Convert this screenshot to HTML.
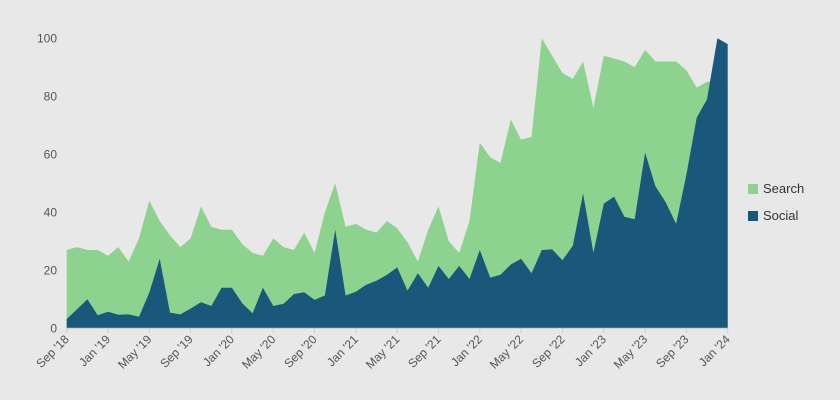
<!DOCTYPE html>
<html><head><meta charset="utf-8"><style>
body{margin:0;background:#e7e8e7;}
svg{display:block;font-family:"Liberation Sans",sans-serif;}
</style></head><body>
<svg id="c" width="840" height="400" xmlns="http://www.w3.org/2000/svg">
<rect width="840" height="400" fill="#e7e8e7"/>
<g id="areas"></g>
<line x1="66.7" y1="328.3" x2="727.7" y2="328.3" stroke="#c8cccc" stroke-width="1"/>
<g id="labels" font-size="12" fill="#555"></g>
<rect x="748" y="184" width="10" height="10" fill="#8dd28e"/>
<text x="763" y="193" font-size="13" fill="#333">Search</text>
<rect x="748" y="211" width="10" height="10" fill="#19587a"/>
<text x="763" y="220" font-size="13" fill="#333">Social</text>
</svg>
<script>
var S=[27,28,27,27,25,28,23,31,44,37,32,28,31,42,35,34,34,29,26,25,31,28,27,33,26,40,50,35,36,34,33,37,34.5,29.7,23,34,42,30,26,37,64,59,57,72,65,66,100,94,88,86,92,76,94,93,92,90,96,92,92,92,89,83,85,85,85];
var O=[3.2,6.5,10,4.5,5.7,4.7,4.8,4,12.3,24,5.4,4.8,6.8,9,7.7,14,14,8.6,5.2,14,7.7,8.5,11.8,12.4,9.8,11.3,34,11.3,12.6,15,16.4,18.4,21,13,19,14,21.5,17,21.5,17,27,17.5,18.5,22,24,19,27,27.2,23.5,28.5,46.5,26,43,45.4,38.5,37.6,60.6,49,43.5,36,53,72.6,79,100,98];
var x0=66.7,dx=(727.7-66.7)/64,y0=328.3,k=2.9;
function poly(d,c){var p=x0+","+y0;for(var i=0;i<d.length;i++)p+=" "+(x0+i*dx).toFixed(1)+","+(y0-d[i]*k).toFixed(1);p+=" "+(x0+(d.length-1)*dx).toFixed(1)+","+y0;return '<polygon points="'+p+'" fill="'+c+'"/>';}
document.getElementById("areas").innerHTML=poly(S,"#8dd28e")+poly(O,"#19587a");
var L="";
for(var v=0;v<=100;v+=20){L+='<text x="57" y="'+(y0-v*k+4).toFixed(1)+'" text-anchor="end">'+v+'</text>';}
var names=["Sep '18","Jan '19","May '19","Sep '19","Jan '20","May '20","Sep '20","Jan '21","May '21","Sep '21","Jan '22","May '22","Sep '22","Jan '23","May '23","Sep '23","Jan '24"];
for(var i=0;i<names.length;i++){var x=x0+i*4*dx;L+='<line x1="'+x.toFixed(1)+'" y1="328.3" x2="'+x.toFixed(1)+'" y2="333" stroke="#c8cccc"/>';L+='<text transform="translate('+(x+3).toFixed(1)+',340) rotate(-45)" text-anchor="end">'+names[i]+'</text>';}
document.getElementById("labels").innerHTML=L;
</script>
</body></html>
